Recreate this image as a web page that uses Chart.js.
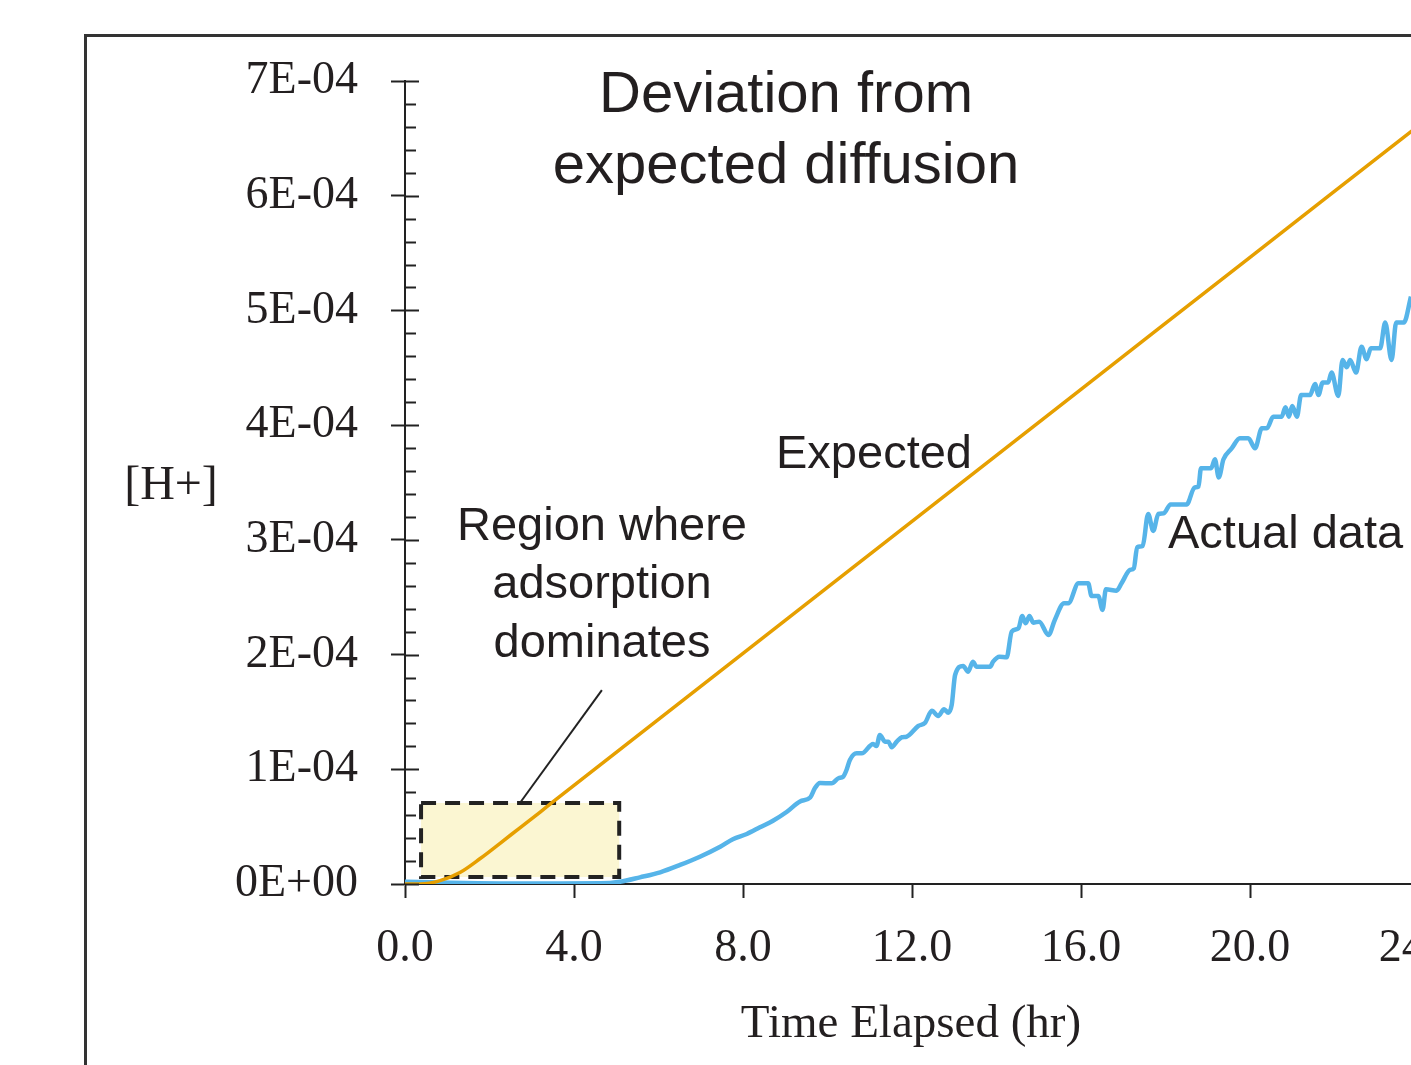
<!DOCTYPE html>
<html>
<head>
<meta charset="utf-8">
<script src="https://cdn.jsdelivr.net/npm/chart.js@4/dist/chart.umd.min.js"></script>
<style>
  html, body { margin: 0; padding: 0; background: #fff; overflow: hidden; }
  #wrap { position: absolute; left: 0; top: 0; }
</style>
</head>
<body>
<div id="wrap"><canvas id="chart" width="1540" height="1100"></canvas></div>
<script>
// time in hours, [H+] in units of 1E-04
const expectedTime = [0, 0.36, 0.83, 1.30, 1.78, 2.25, 2.72, 3.20, 3.50, 8.0, 12.0, 16.0, 20.0, 24.0];
const expectedE4 = [0, 0, 0.029, 0.1, 0.222, 0.355, 0.49, 0.627, 0.715, 2.01, 3.161, 4.312, 5.463, 6.614];

const actualTime = [0, 1.07, 2.25, 3.67, 4.62, 5.09, 5.56, 6.04, 6.51, 6.98,
  7.46, 7.76, 8.09, 8.40, 8.71, 9.04, 9.35, 9.59, 9.70, 9.82,
  10.10, 10.26, 10.37, 10.45, 10.53, 10.69, 10.81, 11.08, 11.16, 11.24,
  11.36, 11.44, 11.52, 11.64, 11.76, 11.87, 12.15, 12.31, 12.47, 12.62,
  12.76, 12.86, 12.94, 13.02, 13.21, 13.33, 13.44, 13.53, 13.85, 13.92,
  14.07, 14.24, 14.36, 14.52, 14.61, 14.69, 14.78, 14.87, 15.01, 15.23,
  15.38, 15.60, 15.70, 15.94, 16.17, 16.25, 16.41, 16.51, 16.59, 16.84,
  16.96, 17.16, 17.25, 17.33, 17.46, 17.59, 17.71, 17.83, 17.96, 18.12,
  18.50, 18.69, 18.78, 18.84, 19.08, 19.17, 19.26, 19.37, 19.57, 19.76,
  19.96, 20.12, 20.28, 20.40, 20.55, 20.75, 20.84, 20.92, 21.00, 21.11,
  21.21, 21.42, 21.54, 21.62, 21.72, 21.85, 21.93, 22.09, 22.19, 22.29,
  22.37, 22.51, 22.64, 22.76, 22.86, 23.08, 23.20, 23.35, 23.46, 23.64,
  23.81];
const actualE4 = [0.02, 0.01, 0.005, 0.005, 0.006, 0.02, 0.058, 0.102, 0.166, 0.238,
  0.325, 0.39, 0.436, 0.494, 0.552, 0.630, 0.72, 0.754, 0.834, 0.88,
  0.878, 0.922, 0.935, 0.994, 1.081, 1.139, 1.139, 1.221, 1.203, 1.299,
  1.241, 1.241, 1.192, 1.241, 1.279, 1.284, 1.378, 1.406, 1.511, 1.465,
  1.523, 1.493, 1.561, 1.822, 1.901, 1.851, 1.938, 1.894, 1.894, 1.938,
  1.982, 1.976, 2.200, 2.229, 2.337, 2.273, 2.337, 2.278, 2.287, 2.171,
  2.302, 2.447, 2.447, 2.622, 2.622, 2.511, 2.511, 2.389, 2.569, 2.557,
  2.622, 2.738, 2.752, 2.936, 2.947, 3.226, 3.078, 3.226, 3.232, 3.309,
  3.309, 3.457, 3.464, 3.624, 3.624, 3.703, 3.544, 3.700, 3.799, 3.886,
  3.886, 3.799, 3.973, 3.973, 4.074, 4.074, 4.156, 4.074, 4.167, 4.074,
  4.263, 4.263, 4.359, 4.263, 4.371, 4.371, 4.458, 4.255, 4.568, 4.505,
  4.568, 4.458, 4.684, 4.574, 4.670, 4.670, 4.894, 4.568, 4.894, 4.894,
  5.120];

// highlighted region (hours / E-04) and its leader line
const boxTime = [0.38, 5.07];
const boxE4 = [0.061, 0.706];
const leaderTime = [2.72, 4.66];
const leaderE4 = [0.706, 1.69];

const SERIF = '"Liberation Serif", "DejaVu Serif", serif';
const SANS = '"Liberation Sans", Arial, sans-serif';
const INK = '#231f20';

function pairs(xs, ys) {
    return xs.map((x, i) => ({ x: x, y: ys[i] }));
}

const framePlugin = {
    id: 'frame',
    beforeDraw(chart) {
        const ctx = chart.ctx;
        ctx.save();
        ctx.fillStyle = '#fff';
        ctx.fillRect(0, 0, chart.width, chart.height);
        ctx.strokeStyle = '#333';
        ctx.lineWidth = 3;
        ctx.strokeRect(85.5, 35.5, 3000, 3000);
        ctx.restore();
    }
};

const regionPlugin = {
    id: 'region',
    beforeDatasetsDraw(chart) {
        const ctx = chart.ctx;
        const xs = chart.scales.x, ys = chart.scales.y;
        const x1 = xs.getPixelForValue(boxTime[0]), x2 = xs.getPixelForValue(boxTime[1]);
        const y1 = ys.getPixelForValue(boxE4[1]), y2 = ys.getPixelForValue(boxE4[0]);
        ctx.save();
        ctx.fillStyle = '#fbf6d2';
        ctx.fillRect(x1, y1, x2 - x1, y2 - y1);
        ctx.setLineDash([15, 9]);
        ctx.lineWidth = 4;
        ctx.strokeStyle = '#222';
        ctx.strokeRect(x1, y1, x2 - x1, y2 - y1);
        ctx.restore();
    },
    afterDatasetsDraw(chart) {
        const ctx = chart.ctx;
        const xs = chart.scales.x, ys = chart.scales.y;
        ctx.save();
        ctx.strokeStyle = '#222';
        ctx.lineWidth = 2;
        ctx.beginPath();
        ctx.moveTo(xs.getPixelForValue(leaderTime[0]), ys.getPixelForValue(leaderE4[0]));
        ctx.lineTo(xs.getPixelForValue(leaderTime[1]), ys.getPixelForValue(leaderE4[1]));
        ctx.stroke();
        ctx.restore();
    }
};

const decorPlugin = {
    id: 'decor',
    afterDraw(chart) {
        const ctx = chart.ctx;
        const ys = chart.scales.y;
        const x0 = chart.chartArea.left;
        ctx.save();
        // minor ticks + right half of the major ticks
        ctx.strokeStyle = '#222';
        ctx.lineWidth = 2;
        for (let i = 0; i <= 35; i++) {
            const y = Math.round(ys.getPixelForValue(i * 0.2)) + 0.5;
            ctx.beginPath();
            ctx.moveTo(x0, y);
            ctx.lineTo(x0 + (i % 5 === 0 ? 14 : 11), y);
            ctx.stroke();
        }

        ctx.fillStyle = INK;
        ctx.textBaseline = 'alphabetic';
        ctx.textAlign = 'center';
        ctx.font = '58px ' + SANS;
        ctx.fillText('Deviation from', 786, 112);
        ctx.fillText('expected diffusion', 786, 183);

        ctx.font = '47px ' + SANS;
        ctx.fillText('Region where', 602, 540);
        ctx.fillText('adsorption', 602, 598);
        ctx.fillText('dominates', 602, 657);
        ctx.textAlign = 'left';
        ctx.fillText('Expected', 776, 468);
        ctx.fillText('Actual data', 1168, 548);

        ctx.font = '48px ' + SERIF;
        ctx.textAlign = 'center';
        ctx.fillText('[H+]', 171, 499);
        ctx.font = '47px ' + SERIF;
        ctx.fillText('Time Elapsed (hr)', 911, 1037);
        ctx.restore();
    }
};

new Chart(document.getElementById('chart'), {
    type: 'line',
    data: {
        datasets: [
            {
                label: 'Expected',
                data: pairs(expectedTime, expectedE4),
                borderColor: '#e69f00',
                borderWidth: 3.5,
                pointRadius: 0,
                cubicInterpolationMode: 'monotone'
            },
            {
                label: 'Actual data',
                data: pairs(actualTime, actualE4),
                borderColor: '#56b4e9',
                borderWidth: 4.5,
                pointRadius: 0,
                cubicInterpolationMode: 'monotone'
            }
        ]
    },
    options: {
        responsive: false,
        animation: false,
        devicePixelRatio: 1,
        layout: { padding: { left: 0, top: 81, right: 36.5, bottom: 0 } },
        plugins: { legend: { display: false }, tooltip: { enabled: false } },
        scales: {
            x: {
                type: 'linear',
                min: 0,
                max: 26,
                afterFit(scale) { scale.height = 216; },
                border: { display: true, color: '#222', width: 2 },
                grid: { drawOnChartArea: false, drawTicks: true, tickLength: 14, tickColor: '#222', tickWidth: 2 },
                ticks: {
                    stepSize: 4,
                    includeBounds: false,
                    padding: 23,
                    color: INK,
                    font: { family: SERIF, size: 46 },
                    maxRotation: 0,
                    callback: v => v.toFixed(1)
                }
            },
            y: {
                min: 0,
                max: 7,
                afterFit(scale) { scale.width = 405; },
                border: { display: true, color: '#222', width: 2 },
                grid: { drawOnChartArea: false, drawTicks: true, tickLength: 14, tickColor: '#222', tickWidth: 2 },
                ticks: {
                    stepSize: 1,
                    padding: 33,
                    color: INK,
                    font: { family: SERIF, size: 46 },
                    callback: v => (Math.round(v) === 0 ? '0E+00' : Math.round(v) + 'E-04')
                }
            }
        }
    },
    plugins: [framePlugin, regionPlugin, decorPlugin]
});
</script>
</body>
</html>
